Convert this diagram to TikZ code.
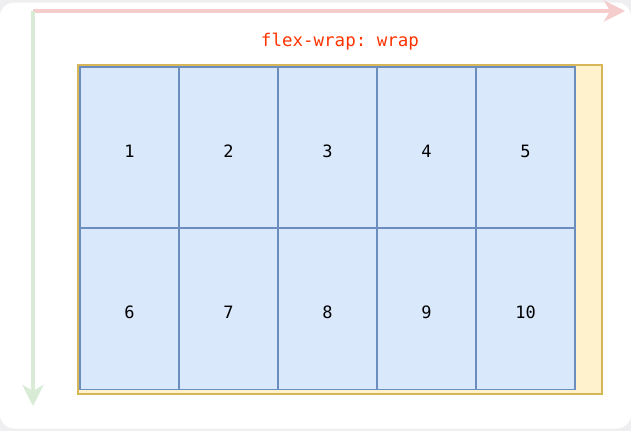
\documentclass[tikz,border=0pt]{standalone}
\usepackage{fontspec}
\setmonofont{DejaVu Sans Mono}
\usetikzlibrary{arrows.meta}
\definecolor{bggray}{HTML}{EFEFF2}
\definecolor{boxfill}{HTML}{DAE8FC}
\definecolor{boxline}{HTML}{6C8EBF}
\definecolor{contfill}{HTML}{FFF2CC}
\definecolor{contline}{HTML}{D6B656}
\definecolor{redarrow}{HTML}{F5CDCD}
\definecolor{greenarrow}{HTML}{D7EBD5}
\definecolor{titlered}{HTML}{FF3300}
\tikzset{
  item/.style={draw=boxline, fill=boxfill, line width=1.5pt, minimum width=99pt, minimum height=161pt, inner sep=0pt},
  itemtext/.style={font=\ttfamily\fontsize{17}{20}\selectfont, text=black, inner sep=0pt},
  container/.style={draw=contline, fill=contfill, line width=1.2pt},
  axis/.style={line width=4pt, -{Stealth[length=21pt,width=21pt,inset=6pt]}},
}
\begin{document}
\begin{tikzpicture}[x=1pt,y=-1pt]
\useasboundingbox (0,0) rectangle (631,431);
\fill[bggray] (0,0) rectangle (631,431);
\fill[white, rounded corners=14pt] (0,2.5) rectangle (631,428.5);
\coordinate (o) at (33,11);
\coordinate (xend) at (625,11);
\coordinate (yend) at (33,406);
\draw[axis, redarrow] (o) -- (xend);
\draw[axis, greenarrow] (o) -- (yend);
\node[font=\ttfamily\fontsize{17.5}{20}\selectfont, text=titlered] (title) at (340,42) {flex-wrap: wrap};
\draw[container] (78,65) rectangle (602,394);
\foreach \i in {1,...,5}{
  \node[item] (b\i) at ({80+99*(\i-1)+49.5},147.5) {};
  \node[itemtext] (t\i) at ([yshift=-3.5pt]b\i.center) {\i};
}
\foreach \i in {6,...,10}{
  \node[item] (b\i) at ({80+99*(\i-6)+49.5},309) {};
  \node[itemtext] (t\i) at ([yshift=-3.5pt]b\i.center) {\i};
}
\end{tikzpicture}
\end{document}
